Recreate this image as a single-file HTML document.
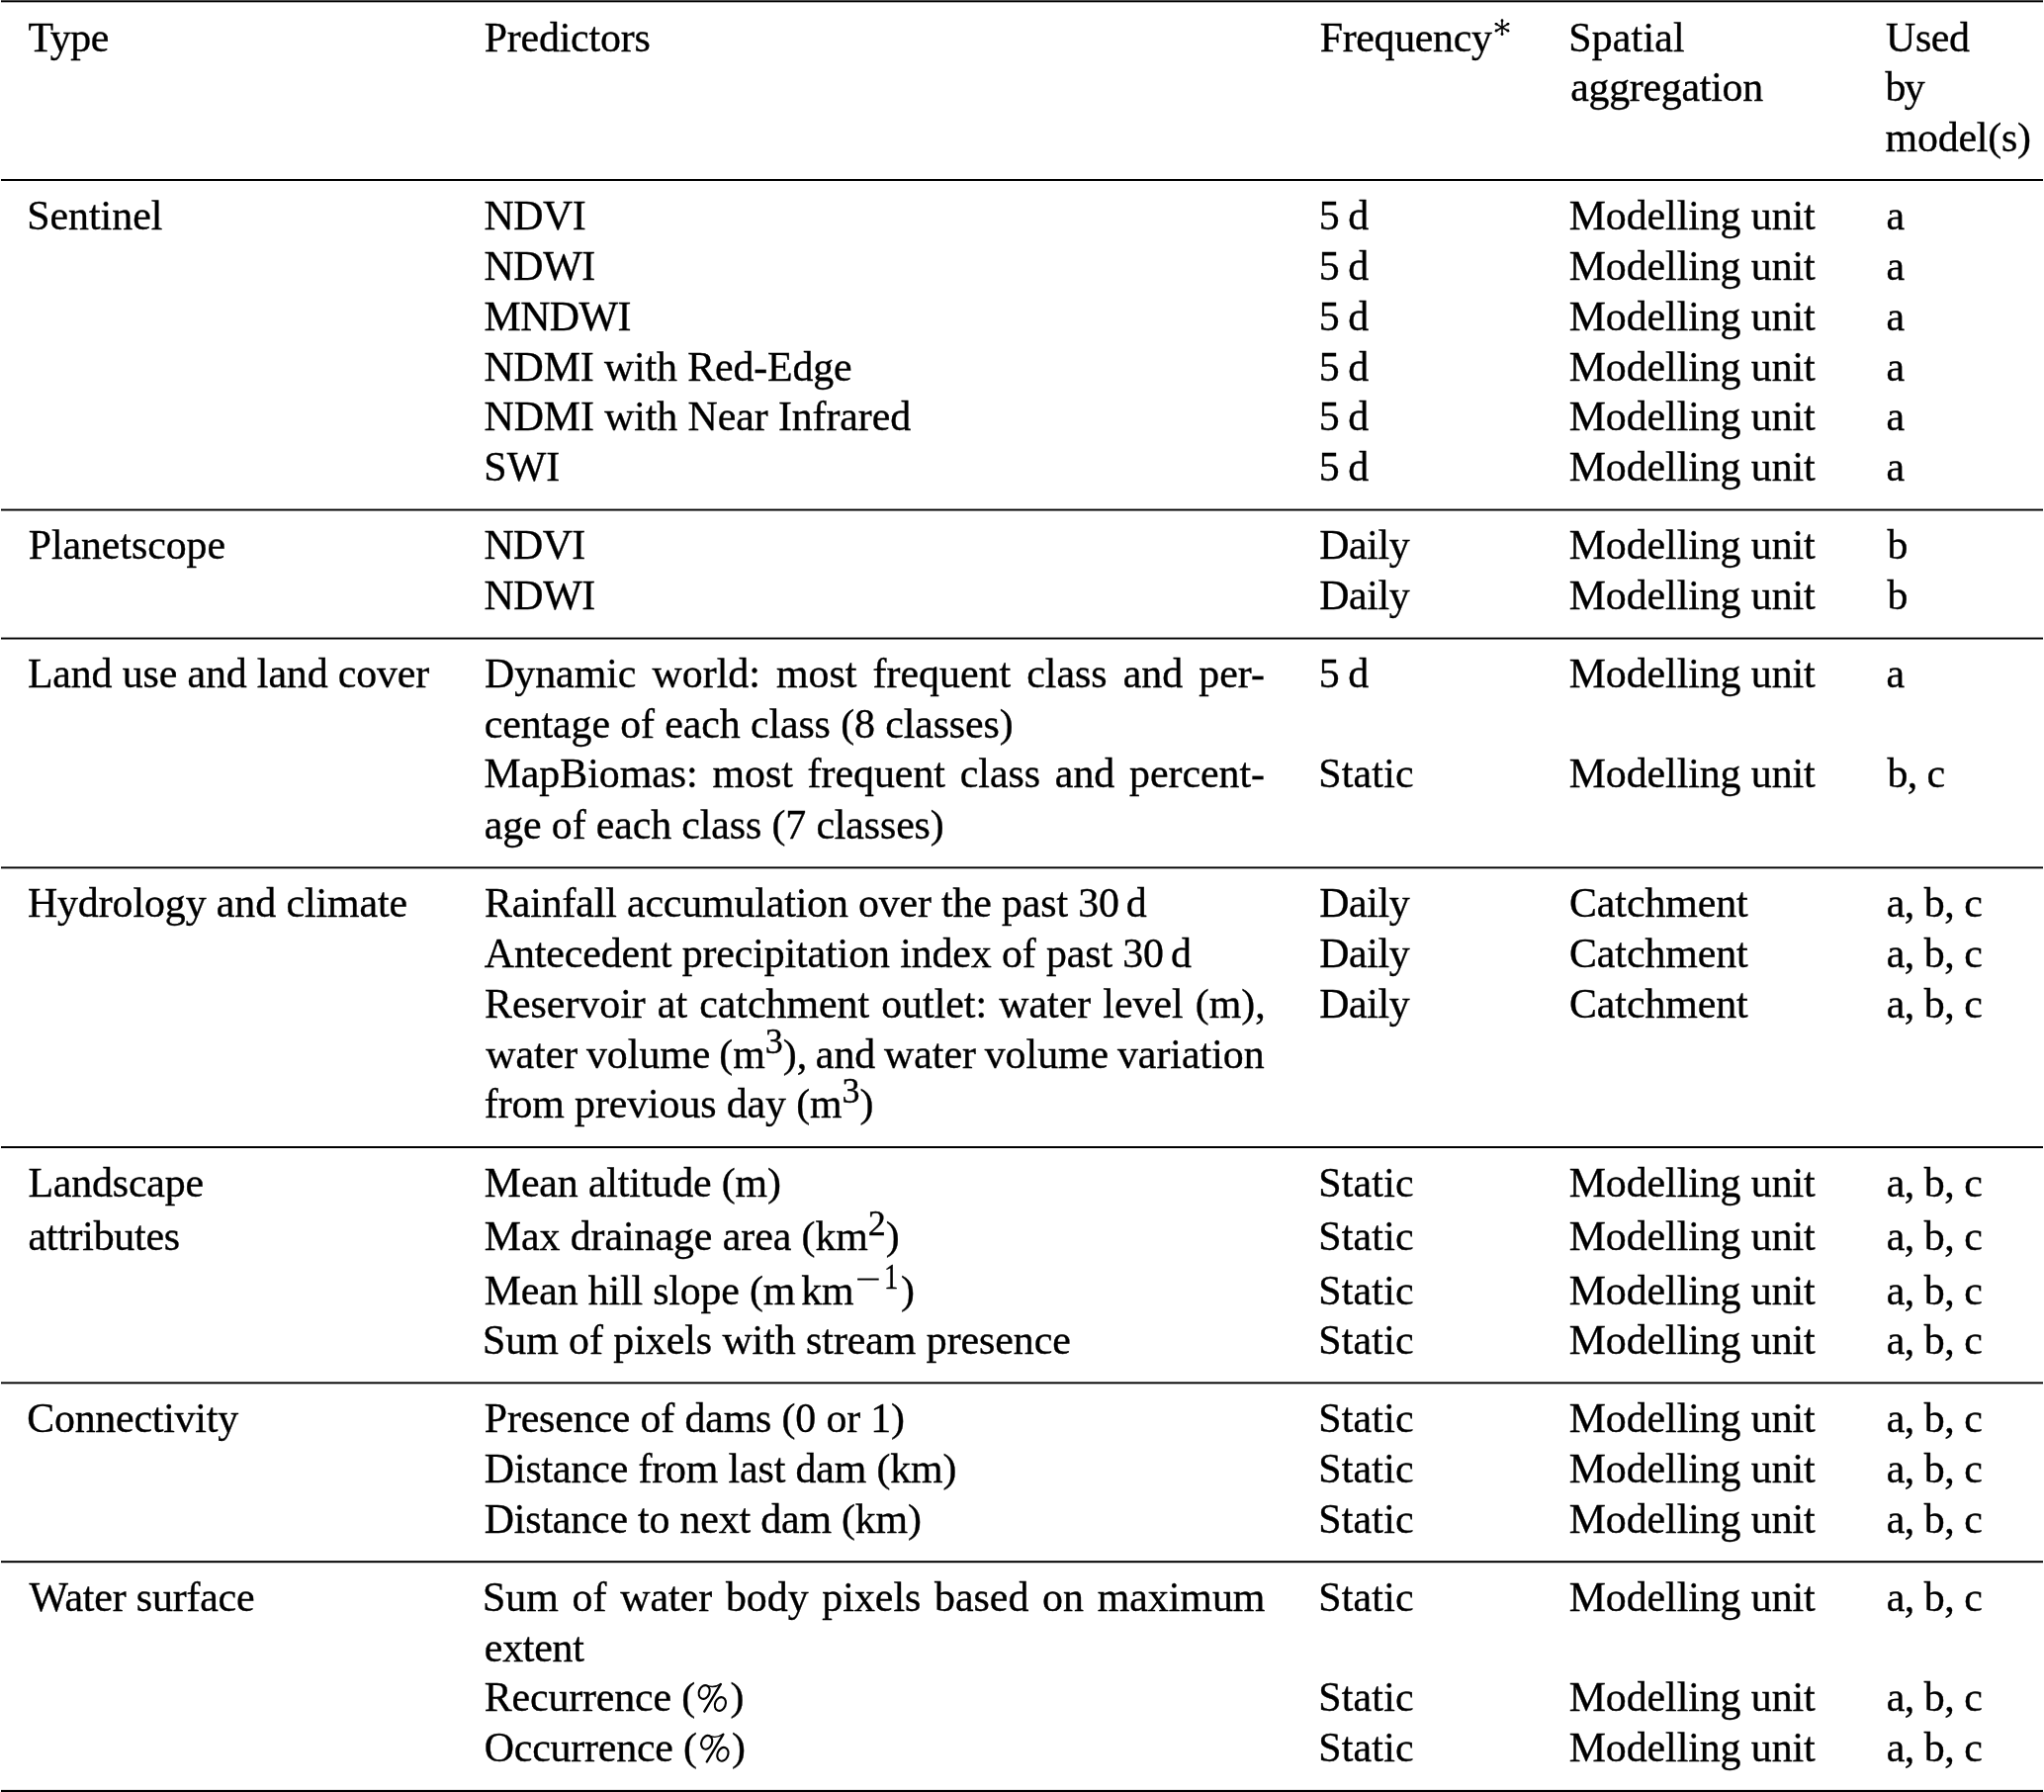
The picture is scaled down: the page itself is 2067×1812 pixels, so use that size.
<!DOCTYPE html>
<html><head><meta charset="utf-8"><title>Table</title><style>
html,body{margin:0;padding:0;background:#fff;}
body{width:2067px;height:1812px;position:relative;overflow:hidden;font-family:"Liberation Serif",serif;font-size:41.85px;line-height:50px;color:#000;will-change:transform;}
.l{position:absolute;white-space:pre;height:50px;-webkit-text-stroke:0.35px #000;}
.ts{display:inline-block;width:0.1667em;}
.ts2{display:inline-block;width:6px;}
.sp{font-size:36px;line-height:0;position:relative;top:-15px;}
.sp2{font-size:36px;line-height:0;position:relative;top:-16px;}
.mn{display:inline-block;width:21.6px;height:2px;background:#000;vertical-align:7.4px;margin:0 6.2px 0 4.6px;}
svg{position:absolute;left:0;top:0;}
.pa{display:inline-block;transform:scaleY(0.942);transform-origin:50% 22.1px;}
</style></head><body>
<svg width="2067" height="1812">
<rect x="1" y="0.3" width="2065" height="2.0" fill="#000"/>
<rect x="1" y="181.0" width="2065" height="2.0" fill="#000"/>
<rect x="1" y="514.6" width="2065" height="1.9" fill="#000"/>
<rect x="1" y="644.6" width="2065" height="1.9" fill="#000"/>
<rect x="1" y="876.4" width="2065" height="1.9" fill="#000"/>
<rect x="1" y="1159.0" width="2065" height="2.0" fill="#000"/>
<rect x="1" y="1397.4" width="2065" height="1.9" fill="#000"/>
<rect x="1" y="1578.2" width="2065" height="2.0" fill="#000"/>
<rect x="1" y="1809.9" width="2065" height="2.2" fill="#000"/>
<rect x="867.1" y="1292.6" width="21.6" height="1.9" fill="#000"/>
<g transform="translate(0,0)" fill="none" stroke="#000"><ellipse cx="712.2" cy="1711.0" rx="5.3" ry="7.1" stroke-width="2.1" transform="rotate(22 712.2 1711.0)"/><ellipse cx="728.4" cy="1723.0" rx="5.3" ry="7.1" stroke-width="2.1" transform="rotate(22 728.4 1723.0)"/><line x1="728.9" y1="1702.9" x2="712.3" y2="1730.6" stroke-width="2.3" stroke-linecap="round"/><path d="M714.2 1704.0 Q 721.5 1707.6 729.2 1702.6" stroke-width="1.3"/></g>
<g transform="translate(2.5,50.8)" fill="none" stroke="#000"><ellipse cx="712.2" cy="1711.0" rx="5.3" ry="7.1" stroke-width="2.1" transform="rotate(22 712.2 1711.0)"/><ellipse cx="728.4" cy="1723.0" rx="5.3" ry="7.1" stroke-width="2.1" transform="rotate(22 728.4 1723.0)"/><line x1="728.9" y1="1702.9" x2="712.3" y2="1730.6" stroke-width="2.3" stroke-linecap="round"/><path d="M714.2 1704.0 Q 721.5 1707.6 729.2 1702.6" stroke-width="1.3"/></g>
<g><line x1="1519.0" y1="27.7" x2="1519.00" y2="20.10" stroke="#000" stroke-width="1.6" stroke-linecap="round"/><circle cx="1519.00" cy="21.00" r="1.45" fill="#000"/><line x1="1519.0" y1="27.7" x2="1512.42" y2="23.90" stroke="#000" stroke-width="1.6" stroke-linecap="round"/><circle cx="1513.20" cy="24.35" r="1.45" fill="#000"/><line x1="1519.0" y1="27.7" x2="1512.42" y2="31.50" stroke="#000" stroke-width="1.6" stroke-linecap="round"/><circle cx="1513.20" cy="31.05" r="1.45" fill="#000"/><line x1="1519.0" y1="27.7" x2="1519.00" y2="35.30" stroke="#000" stroke-width="1.6" stroke-linecap="round"/><circle cx="1519.00" cy="34.40" r="1.45" fill="#000"/><line x1="1519.0" y1="27.7" x2="1525.58" y2="31.50" stroke="#000" stroke-width="1.6" stroke-linecap="round"/><circle cx="1524.80" cy="31.05" r="1.45" fill="#000"/><line x1="1519.0" y1="27.7" x2="1525.58" y2="23.90" stroke="#000" stroke-width="1.6" stroke-linecap="round"/><circle cx="1524.80" cy="24.35" r="1.45" fill="#000"/></g>
</svg>
<div class="l" id="t0" style="left:28.48px;top:13px;letter-spacing:-0.396px">Type</div>
<div class="l" id="t1" style="left:489.64px;top:13px;letter-spacing:-0.167px">Predictors</div>
<div class="l" id="t2" style="left:1334.80px;top:13px;letter-spacing:-0.325px">Frequency</div>
<div class="l" id="t3" style="left:1586.24px;top:13px;letter-spacing:0.189px">Spatial</div>
<div class="l" id="t4" style="left:1588.17px;top:63px;letter-spacing:-0.257px">aggregation</div>
<div class="l" id="t5" style="left:1907.05px;top:13px;letter-spacing:-0.370px">Used</div>
<div class="l" id="t6" style="left:1906.60px;top:63px;letter-spacing:-1.804px">by</div>
<div class="l" id="t7" style="left:1906.60px;top:114px;letter-spacing:-0.203px">model<span class="pa">(</span>s<span class="pa">)</span></div>
<div class="l" id="t8" style="left:27.14px;top:193px;letter-spacing:0.019px">Sentinel</div>
<div class="l" id="t9" style="left:489.52px;top:193px;letter-spacing:-0.478px">NDVI</div>
<div class="l" id="t10" style="left:1333.85px;top:193px;letter-spacing:1.422px">5<span class="ts"></span>d</div>
<div class="l" id="t11" style="left:1586.72px;top:193px;letter-spacing:-0.068px">Modelling unit</div>
<div class="l" id="t12" style="left:1907.54px;top:193px">a</div>
<div class="l" id="t13" style="left:489.52px;top:244px;letter-spacing:-0.365px">NDWI</div>
<div class="l" id="t14" style="left:1333.85px;top:244px;letter-spacing:1.422px">5<span class="ts"></span>d</div>
<div class="l" id="t15" style="left:1586.72px;top:244px;letter-spacing:-0.068px">Modelling unit</div>
<div class="l" id="t16" style="left:1907.54px;top:244px">a</div>
<div class="l" id="t17" style="left:489.52px;top:295px;letter-spacing:-0.538px">MNDWI</div>
<div class="l" id="t18" style="left:1333.85px;top:295px;letter-spacing:1.422px">5<span class="ts"></span>d</div>
<div class="l" id="t19" style="left:1586.72px;top:295px;letter-spacing:-0.068px">Modelling unit</div>
<div class="l" id="t20" style="left:1907.54px;top:295px">a</div>
<div class="l" id="t21" style="left:489.52px;top:346px;letter-spacing:-0.125px">NDMI with Red-Edge</div>
<div class="l" id="t22" style="left:1333.85px;top:346px;letter-spacing:1.422px">5<span class="ts"></span>d</div>
<div class="l" id="t23" style="left:1586.72px;top:346px;letter-spacing:-0.068px">Modelling unit</div>
<div class="l" id="t24" style="left:1907.54px;top:346px">a</div>
<div class="l" id="t25" style="left:489.52px;top:396px;letter-spacing:-0.083px">NDMI with Near Infrared</div>
<div class="l" id="t26" style="left:1333.85px;top:396px;letter-spacing:1.422px">5<span class="ts"></span>d</div>
<div class="l" id="t27" style="left:1586.72px;top:396px;letter-spacing:-0.068px">Modelling unit</div>
<div class="l" id="t28" style="left:1907.54px;top:396px">a</div>
<div class="l" id="t29" style="left:489.32px;top:447px;letter-spacing:0.100px">SWI</div>
<div class="l" id="t30" style="left:1333.85px;top:447px;letter-spacing:1.422px">5<span class="ts"></span>d</div>
<div class="l" id="t31" style="left:1586.72px;top:447px;letter-spacing:-0.068px">Modelling unit</div>
<div class="l" id="t32" style="left:1907.54px;top:447px">a</div>
<div class="l" id="t33" style="left:28.70px;top:526px;letter-spacing:-0.057px">Planetscope</div>
<div class="l" id="t34" style="left:489.52px;top:526px;letter-spacing:-0.612px">NDVI</div>
<div class="l" id="t35" style="left:1334.26px;top:526px;letter-spacing:-0.416px">Daily</div>
<div class="l" id="t36" style="left:1586.72px;top:526px;letter-spacing:-0.068px">Modelling unit</div>
<div class="l" id="t37" style="left:1908.60px;top:526px">b</div>
<div class="l" id="t38" style="left:489.52px;top:577px;letter-spacing:-0.404px">NDWI</div>
<div class="l" id="t39" style="left:1334.26px;top:577px;letter-spacing:-0.416px">Daily</div>
<div class="l" id="t40" style="left:1586.72px;top:577px;letter-spacing:-0.068px">Modelling unit</div>
<div class="l" id="t41" style="left:1908.60px;top:577px">b</div>
<div class="l" id="t42" style="left:27.90px;top:656px;letter-spacing:-0.121px">Land use and land cover</div>
<div class="l" id="t43" style="left:490.06px;top:656px;word-spacing:5.724px">Dynamic world: most frequent class and per-</div>
<div class="l" id="t44" style="left:1333.85px;top:656px;letter-spacing:1.422px">5<span class="ts"></span>d</div>
<div class="l" id="t45" style="left:1586.72px;top:656px;letter-spacing:-0.068px">Modelling unit</div>
<div class="l" id="t46" style="left:1907.54px;top:656px">a</div>
<div class="l" id="t47" style="left:489.80px;top:707px;letter-spacing:-0.095px">centage of each class <span class="pa">(</span>8 classes<span class="pa">)</span></div>
<div class="l" id="t48" style="left:489.52px;top:757px;word-spacing:4.285px">MapBiomas: most frequent class and percent-</div>
<div class="l" id="t49" style="left:1333.13px;top:757px;letter-spacing:0.249px">Static</div>
<div class="l" id="t50" style="left:1586.72px;top:757px;letter-spacing:-0.068px">Modelling unit</div>
<div class="l" id="t51" style="left:1908.60px;top:757px;letter-spacing:-0.675px">b, c</div>
<div class="l" id="t52" style="left:489.80px;top:809px;letter-spacing:-0.118px">age of each class <span class="pa">(</span>7 classes<span class="pa">)</span></div>
<div class="l" id="t53" style="left:27.90px;top:888px;letter-spacing:-0.080px">Hydrology and climate</div>
<div class="l" id="t54" style="left:490.06px;top:888px;letter-spacing:-0.144px">Rainfall accumulation over the past 30<span class="ts"></span>d</div>
<div class="l" id="t55" style="left:1334.26px;top:888px;letter-spacing:-0.416px">Daily</div>
<div class="l" id="t56" style="left:1587.00px;top:888px;letter-spacing:-0.066px">Catchment</div>
<div class="l" id="t57" style="left:1907.77px;top:888px;letter-spacing:-0.465px">a, b, c</div>
<div class="l" id="t58" style="left:489.80px;top:939px;letter-spacing:-0.103px">Antecedent precipitation index of past 30<span class="ts"></span>d</div>
<div class="l" id="t59" style="left:1334.26px;top:939px;letter-spacing:-0.416px">Daily</div>
<div class="l" id="t60" style="left:1587.00px;top:939px;letter-spacing:-0.066px">Catchment</div>
<div class="l" id="t61" style="left:1907.77px;top:939px;letter-spacing:-0.465px">a, b, c</div>
<div class="l" id="t62" style="left:490.06px;top:990px;word-spacing:1.655px">Reservoir at catchment outlet: water level <span class="pa">(</span>m<span class="pa">)</span>,</div>
<div class="l" id="t63" style="left:1334.26px;top:990px;letter-spacing:-0.416px">Daily</div>
<div class="l" id="t64" style="left:1587.00px;top:990px;letter-spacing:-0.066px">Catchment</div>
<div class="l" id="t65" style="left:1907.77px;top:990px;letter-spacing:-0.465px">a, b, c</div>
<div class="l" id="t66" style="left:491.28px;top:1041px;word-spacing:-1.714px">water volume <span class="pa">(</span>m<span class="sp">3</span><span class="pa">)</span>, and water volume variation</div>
<div class="l" id="t67" style="left:489.80px;top:1091px;letter-spacing:-0.100px">from previous day <span class="pa">(</span>m<span class="sp">3</span><span class="pa">)</span></div>
<div class="l" id="t68" style="left:28.42px;top:1171px;letter-spacing:-0.145px">Landscape</div>
<div class="l" id="t69" style="left:28.50px;top:1225px;letter-spacing:-0.244px">attributes</div>
<div class="l" id="t70" style="left:489.80px;top:1171px;letter-spacing:-0.126px">Mean altitude <span class="pa">(</span>m<span class="pa">)</span></div>
<div class="l" id="t71" style="left:1333.13px;top:1171px;letter-spacing:0.249px">Static</div>
<div class="l" id="t72" style="left:1586.72px;top:1171px;letter-spacing:-0.068px">Modelling unit</div>
<div class="l" id="t73" style="left:1907.77px;top:1171px;letter-spacing:-0.465px">a, b, c</div>
<div class="l" id="t74" style="left:489.80px;top:1225px;letter-spacing:-0.055px">Max drainage area <span class="pa">(</span>km<span class="sp">2</span><span class="pa">)</span></div>
<div class="l" id="t75" style="left:1333.13px;top:1225px;letter-spacing:0.249px">Static</div>
<div class="l" id="t76" style="left:1586.72px;top:1225px;letter-spacing:-0.068px">Modelling unit</div>
<div class="l" id="t77" style="left:1907.77px;top:1225px;letter-spacing:-0.465px">a, b, c</div>
<div class="l" id="t78" style="left:489.80px;top:1280px;letter-spacing:-0.157px">Mean hill slope <span class="pa">(</span>m<span class="ts2"></span>km</div>
<div class="l" id="t79" style="left:1333.13px;top:1280px;letter-spacing:0.249px">Static</div>
<div class="l" id="t80" style="left:1586.72px;top:1280px;letter-spacing:-0.068px">Modelling unit</div>
<div class="l" id="t81" style="left:1907.77px;top:1280px;letter-spacing:-0.465px">a, b, c</div>
<div class="l" id="t82" style="left:893.80px;top:1266px;font-size:36px"><span style="display:inline-block;transform:scaleX(0.8);transform-origin:0 0">1</span></div>
<div class="l" id="t83" style="left:911.00px;top:1280px"><span class="pa">)</span></div>
<div class="l" id="t84" style="left:488.08px;top:1330px;letter-spacing:-0.041px">Sum of pixels with stream presence</div>
<div class="l" id="t85" style="left:1333.13px;top:1330px;letter-spacing:0.249px">Static</div>
<div class="l" id="t86" style="left:1586.72px;top:1330px;letter-spacing:-0.068px">Modelling unit</div>
<div class="l" id="t87" style="left:1907.77px;top:1330px;letter-spacing:-0.465px">a, b, c</div>
<div class="l" id="t88" style="left:27.28px;top:1409px;letter-spacing:-0.216px">Connectivity</div>
<div class="l" id="t89" style="left:489.80px;top:1409px;letter-spacing:-0.151px">Presence of dams <span class="pa">(</span>0 or 1<span class="pa">)</span></div>
<div class="l" id="t90" style="left:1333.13px;top:1409px;letter-spacing:0.249px">Static</div>
<div class="l" id="t91" style="left:1586.72px;top:1409px;letter-spacing:-0.068px">Modelling unit</div>
<div class="l" id="t92" style="left:1907.77px;top:1409px;letter-spacing:-0.465px">a, b, c</div>
<div class="l" id="t93" style="left:489.80px;top:1460px;letter-spacing:-0.131px">Distance from last dam <span class="pa">(</span>km<span class="pa">)</span></div>
<div class="l" id="t94" style="left:1333.13px;top:1460px;letter-spacing:0.249px">Static</div>
<div class="l" id="t95" style="left:1586.72px;top:1460px;letter-spacing:-0.068px">Modelling unit</div>
<div class="l" id="t96" style="left:1907.77px;top:1460px;letter-spacing:-0.465px">a, b, c</div>
<div class="l" id="t97" style="left:489.80px;top:1511px;letter-spacing:-0.171px">Distance to next dam <span class="pa">(</span>km<span class="pa">)</span></div>
<div class="l" id="t98" style="left:1333.13px;top:1511px;letter-spacing:0.249px">Static</div>
<div class="l" id="t99" style="left:1586.72px;top:1511px;letter-spacing:-0.068px">Modelling unit</div>
<div class="l" id="t100" style="left:1907.77px;top:1511px;letter-spacing:-0.465px">a, b, c</div>
<div class="l" id="t101" style="left:29.51px;top:1590px;letter-spacing:-0.171px">Water surface</div>
<div class="l" id="t102" style="left:488.08px;top:1590px;word-spacing:3.303px">Sum of water body pixels based on maximum</div>
<div class="l" id="t103" style="left:1333.13px;top:1590px;letter-spacing:0.249px">Static</div>
<div class="l" id="t104" style="left:1586.72px;top:1590px;letter-spacing:-0.068px">Modelling unit</div>
<div class="l" id="t105" style="left:1907.77px;top:1590px;letter-spacing:-0.465px">a, b, c</div>
<div class="l" id="t106" style="left:489.80px;top:1641px;letter-spacing:-0.242px">extent</div>
<div class="l" id="t107" style="left:489.80px;top:1691px;letter-spacing:-0.145px">Recurrence <span class="pa">(</span></div>
<div class="l" id="t108" style="left:1333.13px;top:1691px;letter-spacing:0.249px">Static</div>
<div class="l" id="t109" style="left:1586.72px;top:1691px;letter-spacing:-0.068px">Modelling unit</div>
<div class="l" id="t110" style="left:1907.77px;top:1691px;letter-spacing:-0.465px">a, b, c</div>
<div class="l" id="t111" style="left:738.40px;top:1691px"><span class="pa">)</span></div>
<div class="l" id="t112" style="left:489.80px;top:1742px;letter-spacing:-0.192px">Occurrence <span class="pa">(</span></div>
<div class="l" id="t113" style="left:1333.13px;top:1742px;letter-spacing:0.249px">Static</div>
<div class="l" id="t114" style="left:1586.72px;top:1742px;letter-spacing:-0.068px">Modelling unit</div>
<div class="l" id="t115" style="left:1907.77px;top:1742px;letter-spacing:-0.465px">a, b, c</div>
<div class="l" id="t116" style="left:740.11px;top:1742px"><span class="pa">)</span></div>
</body></html>
